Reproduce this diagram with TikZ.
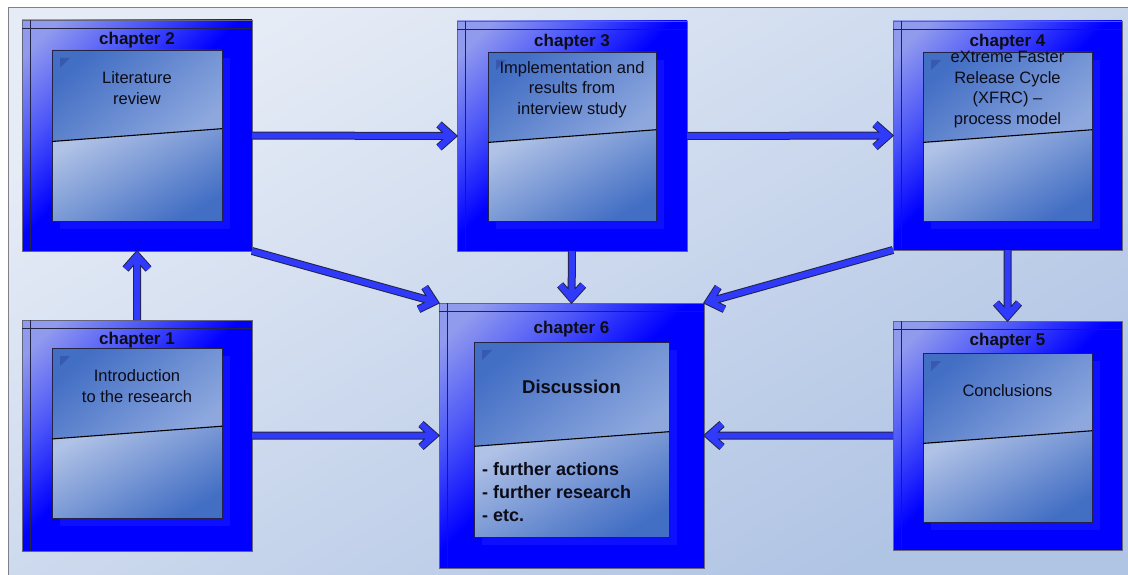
\documentclass[tikz,border=0pt]{standalone}
\usepackage{fontspec}
\setmainfont{Liberation Sans}
\usetikzlibrary{calc}

\definecolor{bgA}{RGB}{230,236,246}
\definecolor{bgB}{RGB}{176,196,228}
\definecolor{boxblue}{RGB}{0,0,255}
\definecolor{boxlight}{RGB}{145,155,238}
\definecolor{boxmid}{RGB}{75,85,248}
\definecolor{panelDark}{RGB}{66,110,196}
\definecolor{panelLight}{RGB}{142,168,222}
\definecolor{panelPale}{RGB}{176,194,230}
\definecolor{panelCorner}{RGB}{55,90,175}
\definecolor{frameGray}{RGB}{128,128,136}
\definecolor{edge}{RGB}{35,35,70}
\definecolor{arrowBlue}{RGB}{48,58,250}
\definecolor{ink}{RGB}{12,12,24}

% outer chapter frame: light in the top-left corner, pure blue elsewhere
\pgfdeclareverticalshading{boxshade}{100bp}{color(0bp)=(boxblue); color(52bp)=(boxblue); color(66bp)=(boxmid); color(80bp)=(boxlight); color(100bp)=(boxlight)}

\newcommand{\titlefont}{\fontsize{17}{19}\selectfont\bfseries}
\newcommand{\bodyfont}{\fontsize{16.5}{20.5}\selectfont}
\newcommand{\bigfont}{\fontsize{18.5}{22}\selectfont\bfseries}
\newcommand{\listfont}{\fontsize{18}{23}\selectfont\bfseries}

\tikzset{
  chapter/.style={shading=boxshade, shading angle=45, draw=edge!70,
    line width=0.8pt, inner sep=0pt, outer sep=0pt},
  headerline/.style={draw=edge, line width=0.7pt},
  panelframe/.style={draw=edge, line width=0.8pt},
  slant/.style={draw=black, line width=1.1pt},
  title/.style={font=\titlefont, text=ink, inner sep=0pt},
  body/.style={font=\bodyfont, text=ink, align=center, inner sep=0pt},
  barrow/.style={line width=6pt, draw=arrowBlue, line cap=butt, line join=miter,
    preaction={draw=edge, line width=8pt},
    to path={ -- ($(\tikztotarget)!6pt!(\tikztostart)$)
      ($($(\tikztotarget)!18pt!(\tikztostart)$)!11.5pt!90:(\tikztotarget)$)
      -- ($(\tikztotarget)!5pt!(\tikztostart)$)
      -- ($($(\tikztotarget)!18pt!(\tikztostart)$)!11.5pt!-90:(\tikztotarget)$)}}
}

% #1 name, #2 #3 centre, #4 #5 size, #6..#9 inner panel margins (left, top, right, bottom)
\newcommand{\chapterbox}[9]{%
  \node[chapter, minimum width=#4pt, minimum height=#5pt] (#1) at (#2,#3) {};
  \draw[headerline] ($(#1.north west)+(8,0)$) -- ($(#1.south west)+(8,0)$);
  \draw[headerline] ($(#1.north west)+(0,8)$) -- ($(#1.north east)+(0,8)$);
  \coordinate (#1-a) at ($(#1.north west)+(#6,#7)$);
  \coordinate (#1-b) at ($(#1.south east)+(-#8,-#9)$);
  \coordinate (#1-l) at ($(#1-a)!0.535!(#1-a |- #1-b)$);
  \coordinate (#1-r) at ($(#1-b |- #1-a)!0.46!(#1-b)$);
  \fill[white, opacity=0.06] ($(#1-a)+(8,8)$) rectangle ($(#1-b)+(8,8)$);
  \shade[top color=panelDark, bottom color=panelLight, shading angle=40]
    (#1-a) -- (#1-b |- #1-a) -- (#1-r) -- (#1-l) -- cycle;
  \shade[top color=panelPale, bottom color=panelDark, shading angle=30]
    (#1-l) -- (#1-r) -- (#1-b) -- (#1-a |- #1-b) -- cycle;
  \fill[panelCorner] ($(#1-a)+(8,8)$) -- ++(10,0) -- ++(-10,10) -- cycle;
  \draw[panelframe] (#1-a) rectangle (#1-b);
  \draw[slant] (#1-l) -- (#1-r);
}

\begin{document}
\begin{tikzpicture}[x=1pt, y=-1pt]
  \useasboundingbox (0,0) rectangle (1128,575);
  \fill[white] (0,0) rectangle (1128,575);
  \shade[top color=bgA, bottom color=bgB, shading angle=30] (8,8) rectangle (1128,575);
  \draw[frameGray, line width=1pt] (8,575) -- (8,8) -- (1128,8);

  % chapter frames
  \chapterbox{c2}{137}{135.5}{230}{231}{30}{30}{30}{30}
  \chapterbox{c3}{572}{136}{230}{230}{31}{31}{31}{30}
  \chapterbox{c4}{1007.5}{135.5}{229}{229}{30}{31}{30}{29}
  \chapterbox{c1}{137}{435.5}{230}{231}{30}{28}{30}{33}
  \chapterbox{c5}{1007.5}{435.5}{229}{229}{30}{32}{30}{28}
  \chapterbox{c6}{571.5}{435.5}{265}{265}{35}{39}{35}{31}

  % titles and texts
  \node[title] (t2) at (137,40) {chapter 2};
  \node[body] (b2) at (137,88) {Literature\\review};
  \node[title] (t3) at (572,42) {chapter 3};
  \node[body] (b3) at (572,89.5) {Implementation and\\results from\\interview study};
  \node[title] (t4) at (1007.5,42) {chapter 4};
  \node[body] (b4) at (1007.5,89.5) {eXtreme Faster\\Release Cycle\\(XFRC) –\\process model};
  \node[title] (t1) at (137,340) {chapter 1};
  \node[body] (b1) at (137,386) {Introduction\\to the research};
  \node[title] (t5) at (1007.5,341) {chapter 5};
  \node[body] (b5) at (1007.5,391) {Conclusions};
  \node[title] (t6) at (571.5,329) {chapter 6};
  \node[font=\bigfont, text=ink, inner sep=0pt] (d6) at (571.5,387) {Discussion};
  \node[font=\listfont, text=ink, align=left, anchor=west, inner sep=0pt] (l6) at (482,492)
    {- further actions\\- further research\\- etc.};

  % connectors
  \draw[barrow] (c2.east) to (c3.west);
  \draw[barrow] (c3.east) to (c4.west);
  \draw[barrow] (c1.north) to (c2.south);
  \draw[barrow] (c2.south east) to (c6.north west);
  \draw[barrow] (c3.south) to (c6.north);
  \draw[barrow] (c4.south west) to (c6.north east);
  \draw[barrow] (c4.south) to (c5.north);
  \draw[barrow] (c1.east) to (c6.west);
  \draw[barrow] (c5.west) to (c6.east);
\end{tikzpicture}
\end{document}
